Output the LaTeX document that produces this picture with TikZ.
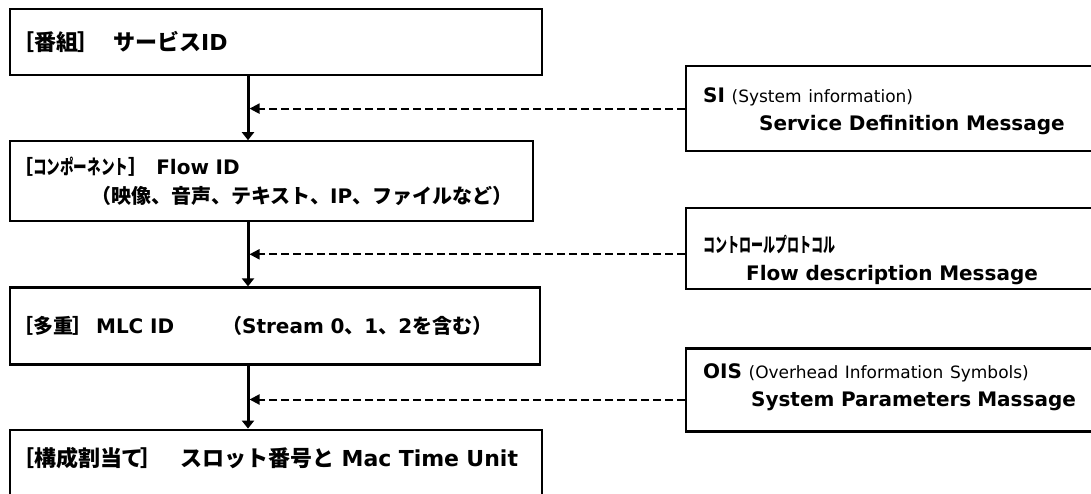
\documentclass[tikz,border=0pt]{standalone}
\usepackage{fontspec}
\setmainfont{DejaVu Sans}
\newfontfamily\jp{Noto Sans CJK JP}
\newfontfamily\jpa[RawFeature=+palt]{Noto Sans CJK JP}
\newfontfamily\jpn[FakeStretch=0.68]{Noto Sans CJK JP}
\newfontfamily\jpm[FakeStretch=0.6]{Noto Sans CJK JP}
\usetikzlibrary{arrows.meta, positioning}
\newcommand{\aside}[1]{{\mdseries\fontsize{17}{28}\selectfont #1}}
\tikzset{
  idbox/.style={rectangle, draw, line width=2.2pt, align=left,
    inner xsep=13pt, inner ysep=0pt, font=\fontsize{20}{29}\selectfont\bfseries},
  msgbox/.style={rectangle, draw, line width=2.2pt, align=left,
    inner xsep=17pt, inner ysep=0pt, font=\fontsize{20}{28}\selectfont\bfseries},
  flowline/.style={-{Triangle[length=8pt,width=12pt]}, line width=3pt},
  feed/.style={-{Triangle[length=10pt,width=10pt]}, line width=2pt,
    dash pattern=on 8pt off 4pt, shorten >=1.5pt},
}

\begin{document}
\begin{tikzpicture}[x=1pt, y=-1pt]
  \useasboundingbox[fill=white] (0,0) rectangle (1091,493);
  \clip (0,0) rectangle (1091,493);

  % left column: identifiers
  \node[idbox, anchor=north west, text width=506pt, minimum height=66pt,
    font=\fontsize{22}{29}\selectfont\bfseries] (svc) at (9,8)
    {{\jpa ［番組］}\hspace{24pt}{\jp サービス}ID};
  \node[idbox, below=64pt of svc.south west, anchor=north west,
    text width=497pt, minimum height=80pt] (flow)
    {{\jpa ［}{\jpn コンポーネント}{\jpa ］}\hspace{18pt}Flow ID\\
     \hspace*{68pt}{\jp （映像、音声、テキスト、}IP{\jp 、ファイルなど）}};
  \node[idbox, below=64pt of flow.south west, anchor=north west,
    text width=504pt, minimum height=77pt] (mlc)
    {{\jpa ［多重］}\hspace{13pt}MLC ID\hspace{48pt}{\jp （}Stream 0{\jp 、}1{\jp 、}2{\jp を含む）}};
  \node[idbox, below=63pt of mlc.south west, anchor=north west,
    text width=506pt, minimum height=80pt, text depth=26pt,
    font=\fontsize{22}{29}\selectfont\bfseries] (slot)
    {{\jpa ［構成割当て］}\hspace{28pt}{\jp スロット番号と} Mac Time Unit};

  % right column: messages
  \node[msgbox, anchor=north west, text width=400pt, minimum height=85pt,
    text height=21pt, text depth=33pt] (si) at (685,65)
    {SI \aside{(System information)}\\
     \hspace*{56pt}Service Definition Message};
  \node[msgbox, below=55pt of si.south west, anchor=north west,
    text width=400pt, minimum height=81pt, text height=40pt, text depth=33pt] (ctl)
    {{\jpm コントロールプロトコル}\\
     \hspace*{43pt}Flow description Message};
  \node[msgbox, below=57pt of ctl.south west, anchor=north west,
    text width=400pt, minimum height=83pt, text height=10pt, text depth=33pt] (ois)
    {OIS \aside{(Overhead Information Symbols)}\\
     \hspace*{48pt}System Parameters\hspace{6pt}Massage};

  \coordinate (spine) at (248,0);
  \foreach \a/\b in {svc/flow,flow/mlc,mlc/slot}
    \draw[flowline] (\a.south -| spine) -- (\b.north -| spine);

  \foreach \m/\dy in {si/0,ctl/5.5,ois/9.5}{
    \coordinate (\m-in) at ([yshift=-\dy pt]\m.west);
    \draw[feed] (\m-in) -- (\m-in -| spine);
  }
\end{tikzpicture}
\end{document}
